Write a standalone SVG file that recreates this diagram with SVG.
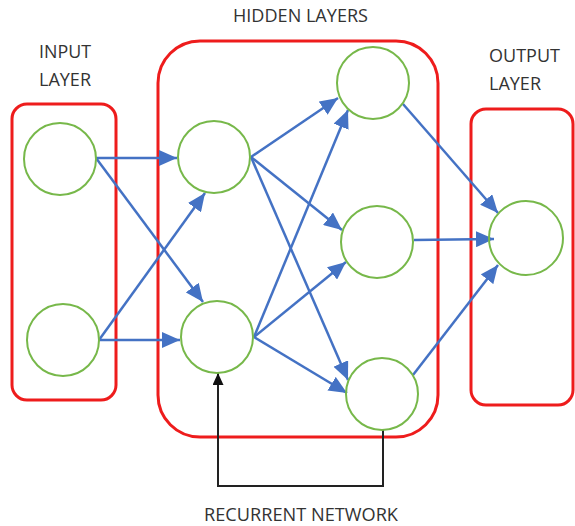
<svg xmlns="http://www.w3.org/2000/svg" width="575" height="526" viewBox="0 0 575 526">
<style>
.box{fill:none;stroke:#EE1C1C;stroke-width:3}
.node{fill:none;stroke:#77B84A;stroke-width:2}
.edge{fill:none;stroke:#4472C4;stroke-width:2.5;marker-end:url(#ab)}
.rec{fill:none;stroke:#222;stroke-width:2;marker-end:url(#ak)}
.lbl{font-family:"Open Sans","Liberation Sans",sans-serif;font-size:17.5px;fill:#333}
</style>
<defs>
<marker id="ab" markerUnits="userSpaceOnUse" markerWidth="19" markerHeight="16" refX="18" refY="8" orient="auto"><path d="M0,0 L18,8 L0,16 z" fill="#4472C4"/></marker>
<marker id="ak" markerUnits="userSpaceOnUse" markerWidth="13" markerHeight="11" refX="12" refY="5.5" orient="auto"><path d="M0,0 L12,5.5 L0,11 z" fill="#111"/></marker>
</defs>
<rect class="box" x="12" y="104" width="104" height="296" rx="15"/>
<rect class="box" x="158" y="41" width="280" height="396" rx="42"/>
<rect class="box" x="471" y="109" width="102" height="296" rx="15"/>
<text class="lbl" x="39" y="58" textLength="52" lengthAdjust="spacingAndGlyphs">INPUT</text>
<text class="lbl" x="39" y="86" textLength="52" lengthAdjust="spacingAndGlyphs">LAYER</text>
<text class="lbl" x="233" y="22" textLength="135" lengthAdjust="spacingAndGlyphs">HIDDEN LAYERS</text>
<text class="lbl" x="489" y="62" textLength="71" lengthAdjust="spacingAndGlyphs">OUTPUT</text>
<text class="lbl" x="489" y="90" textLength="52" lengthAdjust="spacingAndGlyphs">LAYER</text>
<text class="lbl" x="204" y="521" textLength="194" lengthAdjust="spacingAndGlyphs">RECURRENT NETWORK</text>
<g id="connectors">
<line class="edge" x1="96" y1="158" x2="177" y2="158"/>
<line class="edge" x1="96" y1="158" x2="203" y2="302"/>
<line class="edge" x1="99" y1="340" x2="205" y2="193"/>
<line class="edge" x1="99" y1="340" x2="180" y2="340"/>
<line class="edge" x1="251" y1="157" x2="338" y2="98"/>
<line class="edge" x1="251" y1="157" x2="342" y2="230"/>
<line class="edge" x1="251" y1="157" x2="348" y2="380"/>
<line class="edge" x1="254" y1="337" x2="348" y2="110"/>
<line class="edge" x1="254" y1="337" x2="346" y2="262"/>
<line class="edge" x1="254" y1="337" x2="347" y2="393"/>
<line class="edge" x1="403" y1="104" x2="498" y2="213"/>
<line class="edge" x1="414" y1="240" x2="494" y2="239"/>
<line class="edge" x1="413" y1="375" x2="498" y2="265"/>
<polyline class="rec" points="383,430 383,486 218,486 218,373"/>
</g>
<g id="input1"><circle class="node" cx="60" cy="159" r="36"/></g>
<g id="input2"><circle class="node" cx="63" cy="340" r="36"/></g>
<g id="hidden1a"><circle class="node" cx="214" cy="157" r="36"/></g>
<g id="hidden1b"><circle class="node" cx="217" cy="337" r="36"/></g>
<g id="hidden2a"><circle class="node" cx="373" cy="83" r="36"/></g>
<g id="hidden2b"><circle class="node" cx="377" cy="242" r="36"/></g>
<g id="hidden2c"><circle class="node" cx="382" cy="394" r="36"/></g>
<g id="output"><circle class="node" cx="526" cy="238" r="37"/></g>
</svg>
